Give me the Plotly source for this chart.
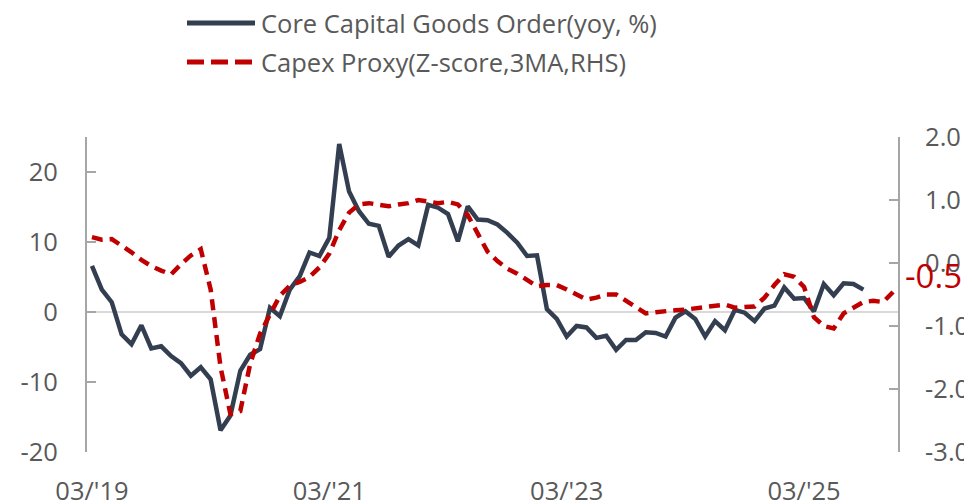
import pandas as pd
import plotly.graph_objects as go

# monthly categories, Mar 2019 - Dec 2025
months = pd.date_range("2019-03-01", "2025-12-01", freq="MS").strftime("%Y-%m").tolist()

# Core capital goods orders, yoy % (Mar 2019 - Sep 2025)
core_orders = [6.6, 3.2, 1.4, -3.2, -4.6, -1.9, -5.2, -4.9, -6.3, -7.3,
               -9.1, -7.9, -9.6, -16.9, -14.8, -8.4, -6.1, -5.3, 0.6, -0.6,
               3.2, 5.1, 8.5, 8.0, 10.6, 24.0, 17.2, 14.4, 12.6, 12.3,
               7.9, 9.5, 10.4, 9.5, 15.3, 14.9, 14.0, 10.1, 15.1, 13.2,
               13.1, 12.5, 11.3, 9.9, 8.0, 8.1, 0.4, -1.0, -3.5, -2.0,
               -2.2, -3.7, -3.4, -5.4, -4.0, -4.0, -2.9, -3.0, -3.5, -0.8,
               0.1, -1.0, -3.5, -1.3, -2.6, 0.3, -0.1, -1.3, 0.5, 0.9,
               3.5, 1.9, 2.0, 0.1, 4.0, 2.4, 4.1, 4.0, 3.2]

# Capex proxy, z-score 3MA (Mar 2019 - Dec 2025)
capex_proxy = [0.41, 0.37, 0.38, 0.28, 0.17, 0.05, -0.05, -0.12, -0.18, -0.02,
               0.12, 0.22, -0.42, -1.65, -2.4, -2.35, -1.6, -1.12, -0.8, -0.52,
               -0.36, -0.3, -0.22, -0.07, 0.15, 0.52, 0.8, 0.93, 0.95, 0.92,
               0.9, 0.93, 0.95, 1.0, 0.98, 0.95, 0.97, 0.93, 0.76, 0.46,
               0.18, 0.03, -0.09, -0.17, -0.28, -0.37, -0.35, -0.35, -0.42, -0.5,
               -0.58, -0.55, -0.5, -0.5, -0.6, -0.72, -0.8, -0.78, -0.76, -0.75,
               -0.74, -0.72, -0.7, -0.68, -0.66, -0.71, -0.7, -0.69, -0.55, -0.35,
               -0.18, -0.22, -0.38, -0.86, -1.0, -1.04, -0.8, -0.7, -0.62, -0.6,
               -0.62, -0.46]

x_tickvals = ["2019-03", "2021-03", "2023-03", "2025-03"]
x_ticktext = ["03/'19", "03/'21", "03/'23", "03/'25"]
y1_tickvals = [-20, -10, 0, 10, 20]
y1_ticktext = ["-20", "-10", "0", "10", "20"]
y2_tickvals = [-3, -2, -1, 0, 1, 2]
y2_ticktext = ["-3.0", "-2.0", "-1.0", "0.0", "1.0", "2.0"]

NAVY = "#333f50"
RED = "#c00000"
GREY = "#a6a6a6"
TXT = "#595959"
FONT = "Open Sans"
FS = 25.5

# the page body has an 8px margin, so the figure is made that much smaller
# and page pixel positions are shifted by it
OFF = 8
W, H = 972 - OFF, 504 - OFF
L, R, T, B = 87 - OFF, 898 - OFF, 137 - OFF, 452 - OFF
def px_x(p): return (p - OFF - L) / (R - L)
def px_y(p): return (B - (p - OFF)) / (B - T)

fig = go.Figure()
fig.add_trace(go.Scatter(x=months[:len(core_orders)], y=core_orders, mode="lines",
                         line=dict(color=NAVY, width=4.5), name="Core Capital Goods Order(yoy, %)"))
fig.add_trace(go.Scatter(x=months, y=capex_proxy, mode="lines", yaxis="y2",
                         line=dict(color=RED, width=4.5, dash="11px,7px"),
                         name="Capex Proxy(Z-score,3MA,RHS)"))

fig.update_layout(
    width=W, height=H,
    margin=dict(l=L, r=W - R, t=T, b=H - B),
    plot_bgcolor="white", paper_bgcolor="white",
    showlegend=False,
    font=dict(family=FONT, size=FS, color=TXT),
    xaxis=dict(type="category", range=[-0.5, len(months) - 0.5], automargin=False,
               tickvals=x_tickvals, ticktext=x_ticktext,
               showgrid=False, showline=False, ticks="", ticklabelstandoff=21),
    yaxis=dict(range=[-20, 25], tickvals=y1_tickvals, ticktext=y1_ticktext, automargin=False,
               showgrid=False, zeroline=True, zerolinecolor="#d9d9d9", zerolinewidth=2,
               showline=True, linecolor=GREY, linewidth=2,
               ticks="inside", ticklen=9, tickwidth=2, tickcolor=GREY,
               ticklabelstandoff=22),
    yaxis2=dict(range=[-3, 2], tickvals=y2_tickvals, ticktext=y2_ticktext, automargin=False,
                overlaying="y", side="right", showgrid=False, zeroline=False,
                showline=True, linecolor=GREY, linewidth=2,
                ticks="inside", ticklen=9, tickwidth=2, tickcolor=GREY,
                ticklabelstandoff=20),
)

# legend drawn by hand so the line samples are as long as in the original
fig.add_shape(type="line", xref="paper", yref="paper",
              x0=px_x(187), x1=px_x(255), y0=px_y(23), y1=px_y(23),
              line=dict(color=NAVY, width=5))
fig.add_shape(type="line", xref="paper", yref="paper",
              x0=px_x(187), x1=px_x(255), y0=px_y(62), y1=px_y(62),
              line=dict(color=RED, width=5, dash="17px,7px"))
fig.add_annotation(text="Core Capital Goods Order(yoy, %)", xref="paper", yref="paper",
                   x=px_x(259), y=px_y(23), xanchor="left", yanchor="middle",
                   showarrow=False, font=dict(size=FS, color=TXT))
fig.add_annotation(text="Capex Proxy(Z-score,3MA,RHS)", xref="paper", yref="paper",
                   x=px_x(259), y=px_y(62), xanchor="left", yanchor="middle",
                   showarrow=False, font=dict(size=FS, color=TXT))

# latest value tag on the right axis
fig.add_annotation(text="-0.5", xref="paper", yref="y2", x=px_x(903), y=-0.2,
                   xanchor="left", yanchor="middle", showarrow=False,
                   font=dict(size=33, color=RED))

fig.write_html("out.html")
